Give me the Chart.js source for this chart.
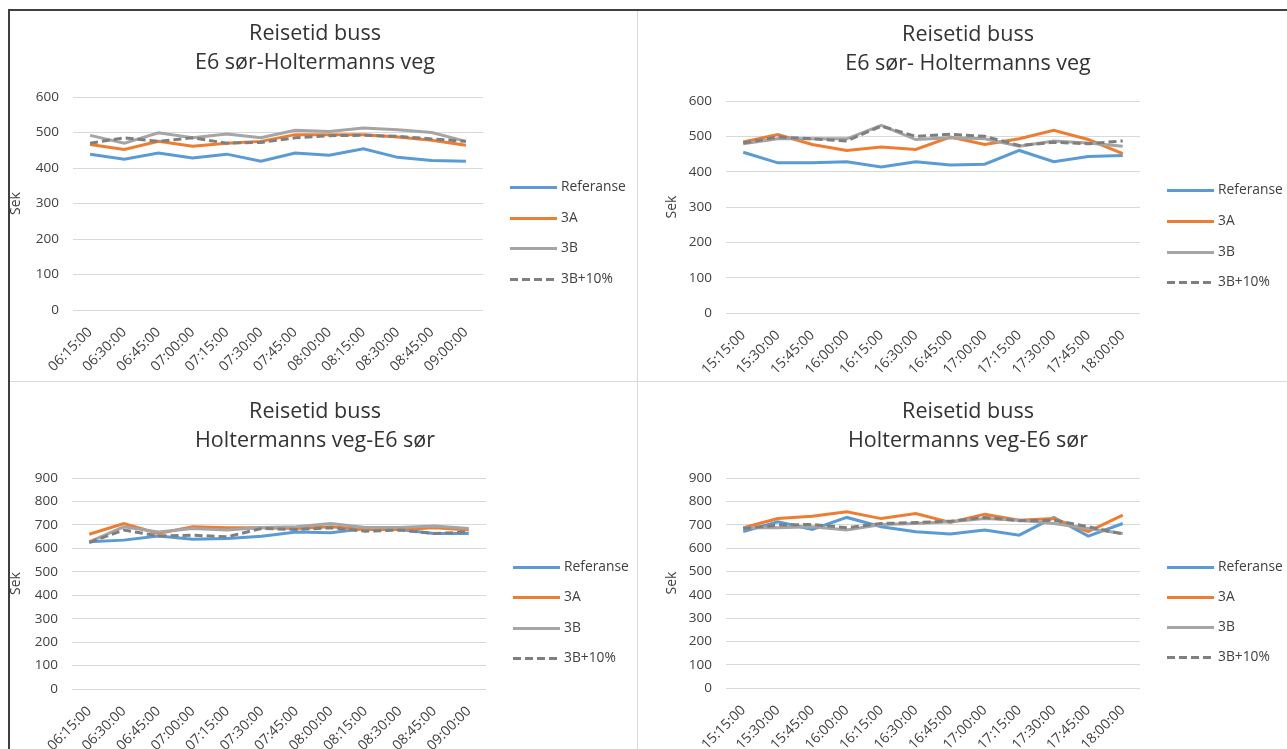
<!DOCTYPE html>
<html>
<head>
<meta charset="utf-8">
<script src="https://cdn.jsdelivr.net/npm/chart.js@4"></script>
<style>
  body { margin: 0; background: #fff; width: 1287px; height: 749px; overflow: hidden; position: relative; }
  canvas { position: absolute; }
  .linje { position: absolute; }
</style>
</head>
<body>
<canvas id="c1" width="630" height="369" style="left:0px;top:11px"></canvas>
<canvas id="c2" width="638" height="369" style="left:649px;top:11px"></canvas>
<canvas id="c3" width="630" height="367" style="left:0px;top:382px"></canvas>
<canvas id="c4" width="638" height="367" style="left:649px;top:382px"></canvas>

<div class="linje" style="left:8px;top:9px;width:1279px;height:2px;background:#3f3f3f"></div>
<div class="linje" style="left:8px;top:9px;width:2px;height:740px;background:#3f3f3f"></div>
<div class="linje" style="left:637px;top:11px;width:1px;height:738px;background:#d9d9d9"></div>
<div class="linje" style="left:10px;top:381px;width:1277px;height:1px;background:#d9d9d9"></div>

<script>
// Tidspunkter
const tiderMorgen = ['06:15:00', '06:30:00', '06:45:00', '07:00:00', '07:15:00', '07:30:00',
                     '07:45:00', '08:00:00', '08:15:00', '08:30:00', '08:45:00', '09:00:00'];
const tiderKveld = ['15:15:00', '15:30:00', '15:45:00', '16:00:00', '16:15:00', '16:30:00',
                    '16:45:00', '17:00:00', '17:15:00', '17:30:00', '17:45:00', '18:00:00'];

// E6 sør -> Holtermanns veg, morgen (sek)
const e6HvMorgenReferanse = [439, 425, 442, 428, 439, 419, 442, 436, 454, 430, 421, 419];
const e6HvMorgen3A        = [466, 452, 475, 461, 470, 475, 494, 494, 494, 487, 478, 464];
const e6HvMorgen3B        = [492, 470, 499, 485, 496, 485, 506, 503, 513, 508, 500, 475];
const e6HvMorgen3B10      = [470, 485, 475, 485, 470, 472, 485, 491, 492, 489, 482, 475];

// E6 sør -> Holtermanns veg, ettermiddag (sek)
const e6HvKveldReferanse = [455, 425, 425, 428, 413, 428, 419, 421, 460, 428, 443, 446];
const e6HvKveld3A        = [484, 505, 477, 460, 470, 463, 498, 477, 493, 517, 491, 451];
const e6HvKveld3B        = [479, 493, 493, 493, 531, 491, 496, 493, 472, 487, 481, 472];
const e6HvKveld3B10      = [481, 498, 493, 487, 529, 500, 506, 500, 474, 483, 479, 487];

// Holtermanns veg -> E6 sør, morgen (sek)
const hvE6MorgenReferanse = [628, 635, 653, 639, 642, 652, 670, 666, 685, 680, 663, 663];
const hvE6Morgen3A        = [660, 706, 663, 692, 688, 688, 685, 692, 680, 680, 688, 678];
const hvE6Morgen3B        = [628, 692, 670, 685, 678, 689, 692, 706, 689, 689, 695, 685];
const hvE6Morgen3B10      = [625, 678, 653, 656, 649, 685, 680, 688, 673, 678, 663, 670];

// Holtermanns veg -> E6 sør, ettermiddag (sek)
const hvE6KveldReferanse = [670, 712, 680, 731, 691, 670, 660, 677, 655, 731, 651, 705];
const hvE6Kveld3A        = [687, 726, 736, 755, 726, 748, 709, 745, 719, 726, 670, 741];
const hvE6Kveld3B        = [687, 687, 691, 677, 701, 705, 712, 726, 719, 705, 684, 662];
const hvE6Kveld3B10      = [684, 698, 701, 687, 705, 709, 715, 731, 717, 719, 691, 660];

const serieNavn = ['Referanse', '3A', '3B', '3B+10%'];
const serieFarger = ['#5b9bd5', '#ed7d31', '#a5a5a5', '#7f7f7f'];

const FONT = '"Open Sans", "Noto Sans", sans-serif';
const TEKST = '#404040';

// Egen forklaring til høyre for plottet
const sideLegend = {
    id: 'sideLegend',
    afterDraw(chart) {
        const { ctx, chartArea } = chart;
        const h = chartArea.bottom - chartArea.top;
        ctx.save();
        chart.data.datasets.forEach((ds, i) => {
            const y = Math.round(chartArea.top + h * (0.422 + i * 0.144)) + 0.5;
            const x = chartArea.right + 27;
            ctx.beginPath();
            ctx.setLineDash(ds.borderDash || []);
            ctx.strokeStyle = ds.borderColor;
            ctx.lineWidth = ds.borderWidth;
            ctx.moveTo(x, y);
            ctx.lineTo(x + 47, y);
            ctx.stroke();
            ctx.setLineDash([]);
            ctx.fillStyle = TEKST;
            ctx.font = '13.8px ' + FONT;
            ctx.textBaseline = 'middle';
            ctx.fillText(ds.label, x + 51, y);
        });
        ctx.restore();
    }
};

function lagDatasett(serier) {
    return serier.map((data, i) => ({
        label: serieNavn[i],
        data: data,
        borderColor: serieFarger[i],
        backgroundColor: serieFarger[i],
        borderWidth: 3,
        borderDash: i === 3 ? [8, 4] : [],
        pointRadius: 0,
        tension: 0,
        fill: false,
        order: 4 - i
    }));
}

function lagDiagram(id, tittel, tider, serier, yMax, opp) {
    const ctx = document.getElementById(id).getContext('2d');
    return new Chart(ctx, {
        type: 'line',
        data: { labels: tider, datasets: lagDatasett(serier) },
        plugins: [sideLegend],
        options: {
            responsive: false,
            animation: false,
            devicePixelRatio: 1,
            layout: { padding: 0 },
            plugins: {
                legend: { display: false },
                tooltip: { enabled: false },
                title: {
                    display: true,
                    text: tittel,
                    color: '#333333',
                    font: { family: FONT, size: 21.5, weight: 'normal', lineHeight: 29 / 21.5 },
                    padding: { top: opp.tittelTopp, bottom: opp.tittelBunn }
                }
            },
            scales: {
                x: {
                    offset: true,
                    grid: { display: false },
                    border: { display: false },
                    ticks: {
                        autoSkip: false,
                        minRotation: 45,
                        maxRotation: 45,
                        padding: 6,
                        color: TEKST,
                        font: { family: FONT, size: 14 }
                    },
                    afterFit: (scale) => { scale.height = opp.xHoyde; }
                },
                y: {
                    min: 0,
                    max: yMax,
                    grid: { color: '#d9d9d9', lineWidth: 1, drawTicks: false },
                    border: { display: false },
                    ticks: {
                        stepSize: 100,
                        padding: 14,
                        color: TEKST,
                        font: { family: FONT, size: 13.5 }
                    },
                    title: {
                        display: true,
                        text: 'Sek',
                        color: TEKST,
                        font: { family: FONT, size: 14 },
                        padding: { top: 4 + opp.venstre, bottom: 0 }
                    },
                    afterFit: (scale) => { scale.width = opp.yBredde; }
                },
                // tom akse som holder plass til forklaringen
                plass: {
                    type: 'linear',
                    position: 'right',
                    grid: { display: false },
                    border: { display: false },
                    ticks: { display: false },
                    afterFit: (scale) => { scale.width = opp.hoyre; }
                }
            }
        }
    });
}

lagDiagram('c1', ['Reisetid buss', 'E6 sør-Holtermanns veg'], tiderMorgen,
    [e6HvMorgenReferanse, e6HvMorgen3A, e6HvMorgen3B, e6HvMorgen3B10], 600,
    { venstre: 4, hoyre: 147, yBredde: 73, xHoyde: 70, tittelTopp: 8, tittelBunn: 20 });

lagDiagram('c2', ['Reisetid buss', 'E6 sør- Holtermanns veg'], tiderKveld,
    [e6HvKveldReferanse, e6HvKveld3A, e6HvKveld3B, e6HvKveld3B10], 600,
    { venstre: 11, hoyre: 147, yBredde: 77, xHoyde: 67, tittelTopp: 9, tittelBunn: 23 });

lagDiagram('c3', ['Reisetid buss', 'Holtermanns veg-E6 sør'], tiderMorgen,
    [hvE6MorgenReferanse, hvE6Morgen3A, hvE6Morgen3B, hvE6Morgen3B10], 900,
    { venstre: 4, hoyre: 144, yBredde: 72, xHoyde: 60, tittelTopp: 15, tittelBunn: 23 });

lagDiagram('c4', ['Reisetid buss', 'Holtermanns veg-E6 sør'], tiderKveld,
    [hvE6KveldReferanse, hvE6Kveld3A, hvE6Kveld3B, hvE6Kveld3B10], 900,
    { venstre: 11, hoyre: 147, yBredde: 77, xHoyde: 61, tittelTopp: 15, tittelBunn: 23 });
</script>
</body>
</html>
